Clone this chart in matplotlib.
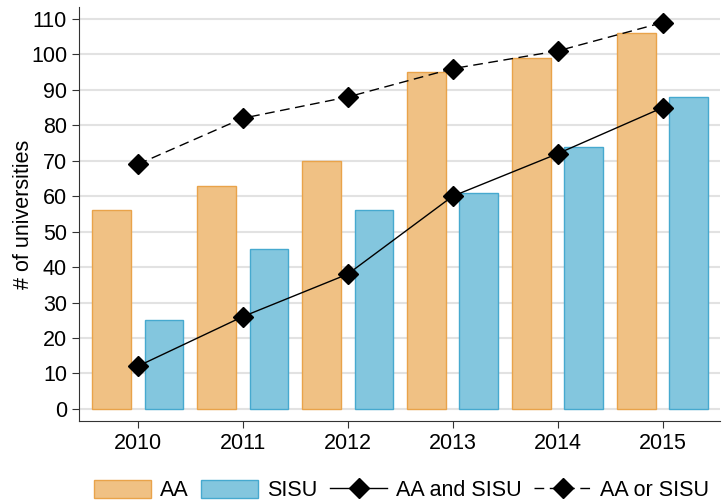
import numpy as np
import matplotlib.pyplot as plt

plt.rcParams['font.family'] = ['Liberation Sans', 'DejaVu Sans']

years = [2010, 2011, 2012, 2013, 2014, 2015]
aa = [56, 63, 70, 95, 99, 106]
sisu = [25, 45, 56, 61, 74, 88]
aa_and_sisu = [12, 26, 38, 60, 72, 85]
aa_or_sisu = [69, 82, 88, 96, 101, 109]

x = np.array(years)

fig = plt.figure(figsize=(7.24, 5.01), dpi=100)
ax = fig.add_axes([0.109, 0.16, 0.886, 0.826])

b1 = ax.bar(x - 0.25, aa, width=0.37, color='#f0c184', edgecolor='#e9a34a', linewidth=1, label='AA', zorder=2)
b2 = ax.bar(x + 0.25, sisu, width=0.37, color='#83c6de', edgecolor='#46a9cf', linewidth=1, label='SISU', zorder=2)
l1, = ax.plot(x, aa_and_sisu, color='black', lw=1, marker='D', markersize=10, label='AA and SISU', zorder=3)
l2, = ax.plot(x, aa_or_sisu, color='black', lw=1, ls=(0, (7, 4)), marker='D', markersize=10, label='AA or SISU', zorder=3)

ax.set_xlim(2009.44, 2015.55)
ax.set_ylim(-3.4, 113.4)
ax.set_xticks(years)
ax.set_yticks(range(0, 111, 10))
ax.tick_params(labelsize=15.5, length=5, color='#333333')
ax.set_ylabel('# of universities', fontsize=15.5, labelpad=-2)
ax.yaxis.grid(True, color='#e2e2e2', lw=1.5, zorder=0)
ax.set_axisbelow(True)
for s in ['top', 'right']:
    ax.spines[s].set_visible(False)
for s in ['left', 'bottom']:
    ax.spines[s].set_color('#333333')

ax.legend([b1, b2, l1, l2], ['AA', 'SISU', 'AA and SISU', 'AA or SISU'],
          loc='center', bbox_to_anchor=(0.503, -0.168), ncol=4, frameon=False,
          fontsize=15.5, handlelength=2.65, handleheight=0.9, columnspacing=0.6,
          handletextpad=0.4, borderaxespad=0)

fig.savefig('out.png', dpi=100)
